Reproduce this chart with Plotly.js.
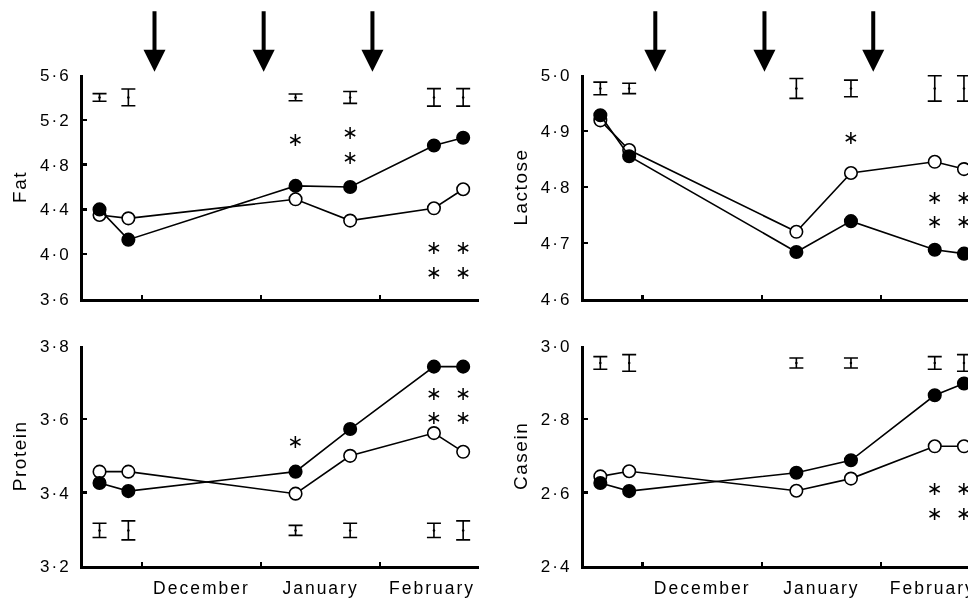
<!DOCTYPE html>
<html><head><meta charset="utf-8">
<script src="https://cdn.plot.ly/plotly-3.0.1.min.js"></script>
<style>
html,body{margin:0;padding:0;overflow:hidden;background:#fff;}
#chart{width:1000px;height:598px;filter:grayscale(100%);}
.xaxislayer-above text,.yaxislayer-above text{letter-spacing:2px;}
.infolayer text{letter-spacing:1.5px;}
</style></head><body><div id="chart"></div>
<script>
// x values: days counted from 1 December
const sampleDay = [-11, -3.5, 40, 54.2, 76, 83.6];
const arrowDay = [3.3, 31.7, 60.0];
const monthStartDay = [0, 31, 62];
const monthMidDay = [15.5, 46.5, 75.5];
const monthLabel = ['December', 'January', 'February'];

// Fat
const fatFilled = [4.40, 4.13, 4.61, 4.60, 4.97, 5.04];
const fatOpen   = [4.35, 4.32, 4.49, 4.30, 4.41, 4.58];
const fatSE     = [0.034, 0.075, 0.030, 0.053, 0.078, 0.078];
const fatStarDay = [40, 54.2, 54.2, 76, 76, 83.6, 83.6];
const fatStarY   = [5.01, 5.07, 4.85, 4.04, 3.82, 4.04, 3.82];
const fatTicks = [3.6, 4.0, 4.4, 4.8, 5.2, 5.6];

// Lactose
const lacFilled = [4.928, 4.855, 4.684, 4.739, 4.688, 4.681];
const lacOpen   = [4.919, 4.866, 4.720, 4.825, 4.845, 4.832];
const lacSE     = [0.0113, 0.0092, 0.0178, 0.0148, 0.0226, 0.0226];
const lacStarDay = [54.2, 76, 76, 83.6, 83.6];
const lacStarY   = [4.885, 4.779, 4.735, 4.779, 4.735];
const lacTicks = [4.6, 4.7, 4.8, 4.9, 5.0];

// Protein
const proFilled = [3.426, 3.404, 3.457, 3.573, 3.743, 3.743];
const proOpen   = [3.457, 3.457, 3.397, 3.500, 3.562, 3.511];
const proSE     = [0.0195, 0.0258, 0.0136, 0.0195, 0.0195, 0.0258];
const proStarDay = [40, 76, 76, 83.6, 83.6];
const proStarY   = [3.533, 3.666, 3.600, 3.666, 3.600];
const proTicks = [3.2, 3.4, 3.6, 3.8];

// Casein
const casFilled = [2.626, 2.604, 2.654, 2.688, 2.865, 2.897];
const casOpen   = [2.644, 2.658, 2.605, 2.638, 2.726, 2.726];
const casSE     = [0.0172, 0.0227, 0.0136, 0.0136, 0.0172, 0.0227];
const casStarDay = [76, 76, 83.6, 83.6];
const casStarY   = [2.606, 2.537, 2.606, 2.537];
const casTicks = [2.4, 2.6, 2.8, 3.0];

const W = 1000, H = 598;
const FONT = 'Liberation Sans, Arial, sans-serif';
const panels = [
  {title:'Fat',     filled:fatFilled, open:fatOpen, se:fatSE, seAt:5.40,  starDay:fatStarDay, starY:fatStarY, ticks:fatTicks, col:0, row:0},
  {title:'Lactose', filled:lacFilled, open:lacOpen, se:lacSE, seAt:4.976, starDay:lacStarDay, starY:lacStarY, ticks:lacTicks, col:1, row:0},
  {title:'Protein', filled:proFilled, open:proOpen, se:proSE, seAt:3.297, starDay:proStarDay, starY:proStarY, ticks:proTicks, col:0, row:1},
  {title:'Casein',  filled:casFilled, open:casOpen, se:casSE, seAt:2.953, starDay:casStarDay, starY:casStarY, ticks:casTicks, col:1, row:1}
];

const xDom = [[83/W, 479.3/W], [583.8/W, 980.1/W]];
const yDom = [[1-299/H, 1-75/H], [1-566/H, 1-345.7/H]];
const xRange = [-15.3, 87.8];

const traces = [];
const layout = {
  width: W, height: H,
  margin: {l:0, r:0, t:0, b:0},
  paper_bgcolor: '#fff', plot_bgcolor: '#fff',
  showlegend: false,
  font: {family: FONT, color: '#000', size: 17},
  annotations: []
};

panels.forEach((p, i) => {
  const n = i + 1;
  const xa = n === 1 ? 'x' : 'x' + n;
  const ya = n === 1 ? 'y' : 'y' + n;
  const xk = n === 1 ? 'xaxis' : 'xaxis' + n;
  const yk = n === 1 ? 'yaxis' : 'yaxis' + n;
  const seY = sampleDay.map(() => p.seAt);

  traces.push({
    x: sampleDay, y: seY, xaxis: xa, yaxis: ya, type: 'scatter', mode: 'markers',
    name: p.title + ' SE',
    marker: {size: 2.5, color: '#000'},
    error_y: {type: 'data', array: p.se, visible: true, color: '#000', thickness: 1.6, width: 7},
    hoverinfo: 'skip'
  });
  traces.push({
    x: sampleDay, y: p.open, xaxis: xa, yaxis: ya, type: 'scatter', mode: 'lines+markers',
    name: p.title + ' (open)',
    line: {color: '#000', width: 1.6},
    marker: {size: 12.5, color: '#fff', line: {color: '#000', width: 1.6}}
  });
  traces.push({
    x: sampleDay, y: p.filled, xaxis: xa, yaxis: ya, type: 'scatter', mode: 'lines+markers',
    name: p.title + ' (filled)',
    line: {color: '#000', width: 1.6},
    marker: {size: 12.5, color: '#000', line: {color: '#000', width: 1.6}}
  });
  traces.push({
    x: p.starDay, y: p.starY, xaxis: xa, yaxis: ya, type: 'scatter', mode: 'text',
    name: p.title + ' significance',
    text: p.starDay.map(() => '\u2217'),
    textposition: 'middle center',
    textfont: {family: 'DejaVu Sans', size: 19, color: '#000'},
    hoverinfo: 'skip'
  });

  const bottom = p.row === 1;
  layout[xk] = {
    domain: xDom[p.col], anchor: ya, range: xRange,
    showline: true, linewidth: 3, linecolor: '#000',
    showgrid: false, zeroline: false,
    tickmode: 'array', tickvals: monthMidDay, ticktext: monthLabel,
    ticks: '', showticklabels: bottom, ticklabelstandoff: 4,
    tickfont: {family: FONT, size: 17.5, color: '#000'},
    minor: {tickmode: 'array', tickvals: monthStartDay, ticks: 'inside', ticklen: 4, tickwidth: 2.5, tickcolor: '#000', showgrid: false}
  };
  layout[yk] = {
    domain: yDom[p.row], anchor: xa, range: [p.ticks[0], p.ticks[p.ticks.length-1]],
    showline: true, linewidth: 3, linecolor: '#000',
    showgrid: false, zeroline: false,
    tickmode: 'array', tickvals: p.ticks, ticktext: p.ticks.map(v => v.toFixed(1).replace('.', '\u00b7')),
    ticks: 'inside', ticklen: 4, tickwidth: 2.5, tickcolor: '#000',
    ticklabelstandoff: 6,
    tickfont: {family: FONT, size: 17, color: '#000'},
    title: {text: p.title, font: {family: FONT, size: 19, color: '#000'}, standoff: 15}
  };

  if (p.row === 0) {
    arrowDay.forEach(d => {
      layout.annotations.push({
        x: d, xref: xa, y: 1 - 71.7/H, yref: 'paper',
        text: '', showarrow: true, arrowhead: 2, arrowwidth: 4, arrowsize: 1.1,
        arrowcolor: '#000', ax: 0, ay: -62, axref: 'pixel', ayref: 'pixel', standoff: 0
      });
    });
  }
});

Plotly.newPlot('chart', traces, layout, {staticPlot: true, displayModeBar: false});
</script></body></html>
